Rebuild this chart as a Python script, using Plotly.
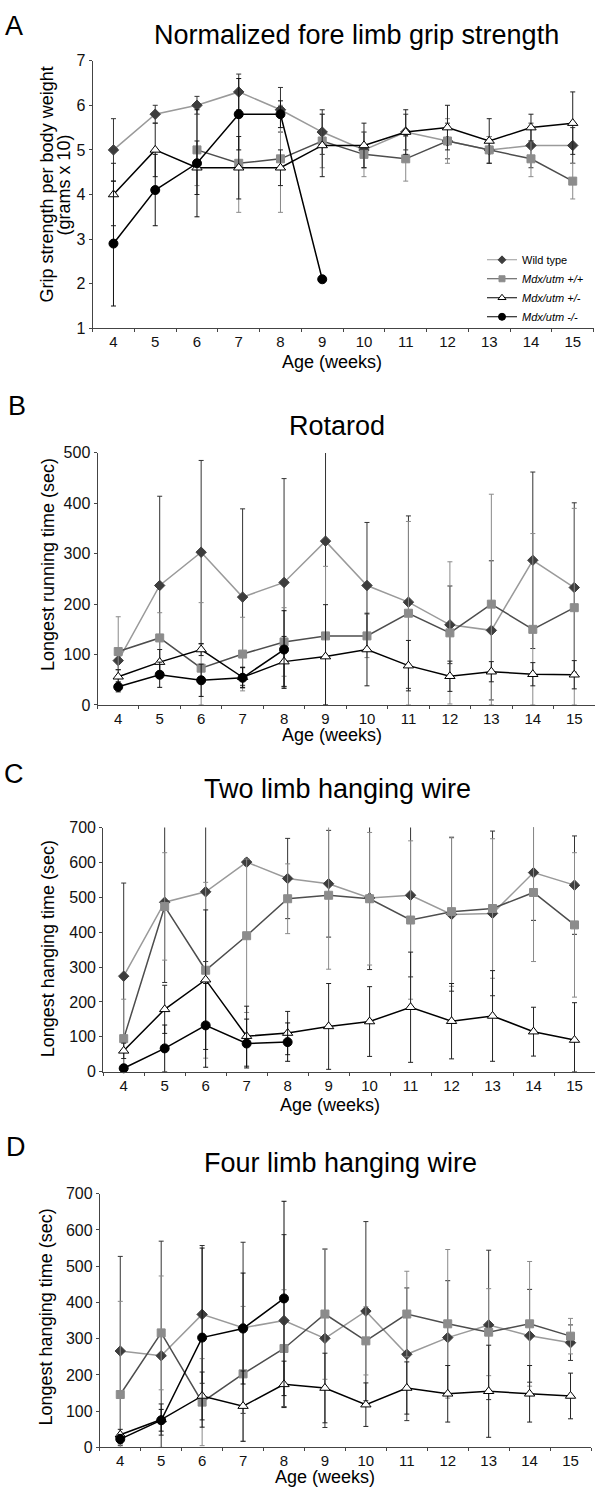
import plotly.graph_objects as go

weeks = [4, 5, 6, 7, 8, 9, 10, 11, 12, 13, 14, 15]
series_names = ["Wild type", "<i>Mdx/utm +/+</i>", "<i>Mdx/utm +/-</i>", "<i>Mdx/utm -/-</i>"]

# Panel A: normalized fore limb grip strength
a_wt = [5.0, 5.8, 6.0, 6.3, 5.9, 5.4, 5.0, 5.4, 5.2, 5.0, 5.1, 5.1]
a_wt_err = [0.7, 0.2, 0.2, 0.4, 0.5, 0.5, 0.4, 0.4, 0.4, 0.3, 0.5, 0.4]
a_pp = [None, None, 5.0, 4.7, 4.8, 5.2, 4.9, 4.8, 5.2, 5.0, 4.8, 4.3]
a_pp_err = [0, 0, 0.8, 1.1, 1.2, 0.6, 0.5, 0.5, 0.5, 0.3, 0.4, 0.4]
a_pm = [4.0, 5.0, 4.6, 4.6, 4.6, 5.1, 5.1, 5.4, 5.5, 5.2, 5.5, 5.6]
a_pm_err = [0.7, 0.6, 0.6, 0.7, 0.4, 0.7, 0.5, 0.5, 0.5, 0.5, 0.3, 0.7]
a_mm = [2.9, 4.1, 4.7, 5.8, 5.8, 2.1]
a_mm_err = [1.4, 0.8, 1.2, 0.8, 0.3, 0.0]

# Panel B: rotarod
b_wt = [88, 237, 303, 214, 243, 325, 237, 204, 159, 148, 287, 233]
b_wt_err = [18, 177, 182, 175, 206, 183, 125, 171, 77, 138, 175, 168]
b_pp = [106, 133, 73, 101, 125, 137, 137, 182, 143, 200, 150, 193]
b_pp_err = [69, 50, 130, 73, 68, 138, 43, 182, 141, 218, 190, 197]
b_pm = [56, 85, 110, 55, 86, 96, 110, 78, 57, 66, 61, 60]
b_pm_err = [14, 25, 12, 20, 50, 103, 72, 50, 30, 20, 23, 28]
b_mm = [36, 60, 49, 54, 110]
b_mm_err = [10, 25, 32, 20, 77]

# Panel C: two limb hanging wire
c_wt = [274, 486, 516, 601, 554, 539, 498, 506, 451, 454, 571, 535]
c_wt_err = [267, 230, 200, 10, 115, 153, 205, 234, 220, 236, 137, 141]
c_pp = [95, 474, 291, 390, 496, 506, 496, 435, 459, 468, 514, 421]
c_pp_err = [113, 154, 252, 220, 100, 212, 190, 227, 214, 200, 198, 207]
c_pm = [60, 179, 264, 102, 111, 130, 144, 185, 145, 160, 115, 91]
c_pm_err = [22, 69, 200, 86, 62, 123, 100, 158, 108, 130, 70, 107]
c_mm = [10, 67, 133, 81, 85]
c_mm_err = [10, 67, 120, 70, 55]

# Panel D: four limb hanging wire
d_wt = [266, 253, 367, 330, 350, 301, 376, 257, 303, 338, 308, 289]
d_wt_err = [261, 316, 190, 236, 237, 246, 247, 183, 157, 206, 128, 49]
d_pp = [146, 316, 125, 203, 273, 368, 294, 368, 341, 318, 341, 307]
d_pp_err = [257, 157, 120, 186, 162, 180, 94, 118, 205, 120, 172, 49]
d_pm = [35, 77, 142, 114, 174, 164, 118, 164, 148, 155, 148, 142]
d_pm_err = [15, 43, 66, 97, 64, 96, 60, 72, 78, 127, 78, 63]
d_mm = [23, 75, 303, 328, 411]
d_mm_err = [13, 30, 247, 153, 268]

titles = ["Normalized fore limb grip strength", "Rotarod", "Two limb hanging wire", "Four limb hanging wire"]
letters = ["A", "B", "C", "D"]
ytitles = [["Grip strength per body weight", "(grams x 10)"], ["Longest running time (sec)"],
           ["Longest hanging time (sec)"], ["Longest hanging time (sec)"]]
yranges = [[1, 7], [0, 500], [0, 700], [0, 700]]
ydticks = [1, 100, 100, 100]

panels = [
    (a_wt, a_wt_err, a_pp, a_pp_err, a_pm, a_pm_err, a_mm, a_mm_err),
    (b_wt, b_wt_err, b_pp, b_pp_err, b_pm, b_pm_err, b_mm, b_mm_err),
    (c_wt, c_wt_err, c_pp, c_pp_err, c_pm, c_pm_err, c_mm, c_mm_err),
    (d_wt, d_wt_err, d_pp, d_pp_err, d_pm, d_pm_err, d_mm, d_mm_err),
]

W, H = 595, 1496
FONT = "Liberation Sans, Arial, sans-serif"

# layout geometry in pixels: (x_left, x_right, y_top, y_bottom)
geom = [(92.6, 593.6, 53.3, 324.0), (97.5, 595.0, 450.0, 705.0),
        (103.2, 595.0, 829.0, 1076.0), (99.8, 591.0, 1199.3, 1456.0)]
title_pos = [(356.7, 27), (336.6, 423), (337, 790), (340.4, 1168)]
letter_pos = [(14, 18), (17, 403), (14.4, 775), (16, 1152)]
xtitle_pos = [(332, 358), (332, 735), (330, 1110), (325, 1486)]
ytitle_pos = [[(46.5, 179), (63.5, 179)], [(47.4, 563)], [(48, 952)], [(45.5, 1324)]]

styles = [
    dict(symbol="diamond", msize=8, lsize=6, mcolor="#3d3d3d", mline="#3d3d3d", lcolor="#9a9a9a", ecolor="#333333"),
    dict(symbol="square", msize=8, lsize=6, mcolor="#8c8c8c", mline="#8c8c8c", lcolor="#4d4d4d", ecolor="#8a8a8a"),
    dict(symbol="triangle-up", msize=9, lsize=7, mcolor="white", mline="#000000", lcolor="#000000", ecolor="#222222"),
    dict(symbol="circle", msize=9, lsize=7, mcolor="#000000", mline="#000000", lcolor="#000000", ecolor="#111111"),
]

fig = go.Figure()
annotations = []


def px(x):
    return x / W


def py(y):
    return 1 - y / H


for i, pdata in enumerate(panels):
    xa = "x" if i == 0 else f"x{i+1}"
    ya = "y" if i == 0 else f"y{i+1}"
    for s in range(4):
        vals = pdata[2 * s]
        errs = pdata[2 * s + 1]
        xs = weeks[:len(vals)]
        eplus = [e if v is not None else 0 for v, e in zip(vals, errs)]
        eminus = [min(e, v - yranges[i][0]) if v is not None else 0 for v, e in zip(vals, errs)]
        st = styles[s]
        fig.add_trace(go.Scatter(
            x=xs, y=vals, xaxis=xa, yaxis=ya, mode="lines+markers",
            name=series_names[s], showlegend=False,
            line=dict(color=st["lcolor"], width=1.5),
            marker=dict(symbol=st["symbol"], size=st["msize"], color=st["mcolor"],
                        line=dict(color=st["mline"], width=1)),
            error_y=dict(type="data", symmetric=False, array=eplus, arrayminus=eminus,
                         color=st["ecolor"], thickness=1, width=2.5),
            cliponaxis=False, connectgaps=False,
        ))
    xl, xr, yt, yb = geom[i]
    axkey = "xaxis" if i == 0 else f"xaxis{i+1}"
    aykey = "yaxis" if i == 0 else f"yaxis{i+1}"
    fig.layout[axkey] = dict(
        domain=[px(xl), px(xr)], range=[3.5, 15.5], anchor=ya,
        tickvals=weeks, ticktext=[str(w) for w in weeks], ticks="",
        showline=True, linecolor="#444444", linewidth=1, showgrid=False, zeroline=False,
        tickfont=dict(size=15, color="#111111", family=FONT),
        minor=dict(tick0=3.5, dtick=1, ticks="outside", ticklen=3, tickcolor="#444444", showgrid=False),
        fixedrange=True,
    )
    lo, hi = yranges[i]
    fig.layout[aykey] = dict(
        domain=[py(yb), py(yt)], range=[lo, hi], anchor=xa,
        dtick=ydticks[i], tick0=lo, ticks="outside", ticklen=3, tickcolor="#444444",
        showline=True, linecolor="#444444", linewidth=1, showgrid=False, zeroline=False,
        tickfont=dict(size=16, color="#111111", family=FONT),
        fixedrange=True,
    )
    tx, ty = title_pos[i]
    annotations.append(dict(text=titles[i], x=px(tx), y=py(ty), xref="paper", yref="paper",
                            showarrow=False, xanchor="center", yanchor="middle",
                            font=dict(size=27, color="#000000", family=FONT)))
    lx, ly = letter_pos[i]
    annotations.append(dict(text=letters[i], x=px(lx), y=py(ly), xref="paper", yref="paper",
                            showarrow=False, xanchor="center", yanchor="middle",
                            font=dict(size=27, color="#000000", family=FONT)))
    ax_, ay_ = xtitle_pos[i]
    annotations.append(dict(text="Age (weeks)", x=px(ax_), y=py(ay_), xref="paper", yref="paper",
                            showarrow=False, xanchor="center", yanchor="middle",
                            font=dict(size=18, color="#000000", family=FONT)))
    for txt, (yx, yy) in zip(ytitles[i], ytitle_pos[i]):
        annotations.append(dict(text=txt, x=px(yx), y=py(yy), xref="paper", yref="paper",
                                showarrow=False, xanchor="center", yanchor="middle", textangle=-90,
                                font=dict(size=18, color="#000000", family=FONT)))

# legend entries (no data of their own) with the smaller legend symbols
for s in range(4):
    st = styles[s]
    fig.add_trace(go.Scatter(
        x=[None], y=[None], xaxis="x", yaxis="y", mode="lines+markers",
        name=series_names[s], showlegend=True, legendrank=s,
        line=dict(color=st["lcolor"] if s != 0 else "#9a9a9a", width=1.2),
        marker=dict(symbol=st["symbol"], size=st["lsize"], color=st["mcolor"],
                    line=dict(color=st["mline"], width=1)),
    ))

fig.update_layout(
    width=W, height=H, margin=dict(l=0, r=0, t=0, b=0),
    paper_bgcolor="white", plot_bgcolor="white",
    font=dict(family=FONT, color="#000000"),
    annotations=annotations,
    legend=dict(x=px(482), y=py(240), xanchor="left", yanchor="top",
                font=dict(size=11, family=FONT, color="#000000"),
                bgcolor="rgba(0,0,0,0)", tracegroupgap=0, itemwidth=30),
)

fig.write_html("out.html")
